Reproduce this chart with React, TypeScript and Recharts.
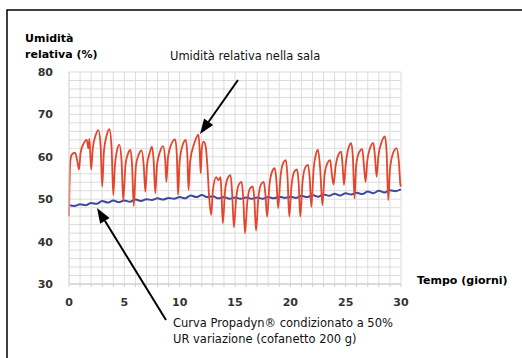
import React from "react";
import { LineChart, Line, XAxis, YAxis, CartesianGrid } from "recharts";

// Room relative humidity (red) — day, %RH
const redDays = [
  0, 0.1, 0.25, 0.55, 0.75, 0.9,
  1.05, 1.3, 1.6, 1.75, 1.85, 2.0,
  2.15, 2.4, 2.65, 2.85, 3.0,
  3.15, 3.4, 3.65, 3.85, 4.0,
  4.15, 4.3, 4.55, 4.75, 4.9,
  5.1, 5.3, 5.55, 5.7, 5.85,
  6.05, 6.3, 6.55, 6.75, 6.9,
  7.05, 7.3, 7.5, 7.65, 7.8,
  7.95, 8.2, 8.5, 8.7, 8.8,
  8.95, 9.25, 9.6, 9.75, 9.85,
  10.0, 10.3, 10.55, 10.7, 10.8,
  10.95, 11.3, 11.7, 11.8, 11.9,
  12.0, 12.15, 12.35, 12.5, 12.65, 12.85,
  13.0, 13.3, 13.5, 13.7, 13.8, 13.9,
  14.1, 14.35, 14.6, 14.75, 14.9,
  15.1, 15.35, 15.6, 15.75, 15.9,
  16.1, 16.35, 16.6, 16.75, 16.9,
  17.1, 17.35, 17.6, 17.75, 17.9,
  18.1, 18.35, 18.6, 18.75, 18.9,
  19.1, 19.35, 19.6, 19.75, 19.9,
  20.1, 20.35, 20.6, 20.75, 20.9,
  21.1, 21.35, 21.6, 21.75, 21.9,
  22.1, 22.3, 22.5, 22.7, 22.9,
  23.1, 23.35, 23.6, 23.75, 23.9,
  24.1, 24.35, 24.6, 24.72, 24.85,
  25.0, 25.25, 25.5, 25.65, 25.8,
  25.95, 26.2, 26.5, 26.65, 26.8,
  26.95, 27.2, 27.5, 27.65, 27.8,
  27.95, 28.25, 28.55, 28.7, 28.85,
  29.0, 29.3, 29.6, 29.8, 29.95, 30.0,
];
const redValues = [
  46, 58.5, 60.5, 61, 59, 57,
  61, 63, 64, 62, 64.2, 57,
  62, 65, 66.3, 63, 53,
  61, 65, 66.5, 62, 51,
  58, 61, 62.8, 59, 49.8,
  58, 60.5, 61.6, 58, 48.4,
  58, 60.5, 61.5, 58, 51.8,
  58, 61, 62.4, 59, 51.4,
  58, 61, 62.5, 59, 54.1,
  60, 63, 64.1, 60, 51,
  59, 63, 64, 60, 52.2,
  59, 63, 65.2, 62, 56.1,
  62, 63.6, 62.5, 58, 51, 46.3,
  52, 55.2, 54.5, 55.2, 50, 44.3,
  52, 55, 55.7, 51, 43.4,
  50, 53.5, 54.1, 50, 42,
  49, 52.5, 53, 50, 42.6,
  50, 53.5, 54.1, 51, 45.9,
  53, 56.5, 57.3, 54, 47.9,
  55, 58.5, 59.2, 55, 45.9,
  53, 56.5, 57, 54, 45.9,
  54, 57.5, 58.1, 55, 48.2,
  57, 60.5, 61.6, 57, 48.6,
  56, 58.5, 59.2, 56, 53.5,
  58, 60.5, 61.2, 58, 53.4,
  58, 62, 63.2, 60, 50.2,
  58, 61, 61.8, 58, 54.1,
  59, 62, 63.3, 60, 55.3,
  60, 63.5, 64.8, 61, 49.8,
  57, 61, 62, 59, 53.4, 53,
];

// Propadyn curve (blue) — day, %RH
const blueDays = [
  0, 0.5, 1, 1.5, 2, 2.5, 3, 3.5, 4, 4.5, 5, 5.5, 6, 6.5, 7, 7.5, 8, 8.5, 9, 9.5,
  10, 10.5, 11, 11.5, 12, 12.5, 13, 13.5, 14, 14.5, 15, 15.5, 16, 16.5, 17, 17.5,
  18, 18.5, 19, 19.5, 20, 20.5, 21, 21.5, 22, 22.5, 23, 23.5, 24, 24.5, 25, 25.5,
  26, 26.5, 27, 27.5, 28, 28.5, 29, 29.5, 30,
];
const blueValues = [
  48.6, 48.4, 48.8, 48.6, 49.1, 48.9, 49.6, 49.2, 49.7, 49.3, 49.7, 49.4, 49.9, 49.6,
  50.0, 49.8, 50.2, 49.9, 50.3, 50.1, 50.5, 50.2, 50.9, 50.5, 51.0, 50.5, 50.7, 50.2,
  50.5, 50.1, 50.4, 50.1, 50.4, 50.1, 50.4, 50.1, 50.5, 50.2, 50.6, 50.3, 50.6, 50.3,
  50.8, 50.5, 51.0, 50.6, 51.1, 50.8, 51.3, 50.9, 51.4, 51.1, 51.5, 51.2, 51.8, 51.4,
  52.0, 51.6, 52.1, 51.9, 52.3,
];

const dayTicks = Array.from({ length: 31 }, (_, i) => i);
const rhTicks = Array.from({ length: 26 }, (_, i) => 30 + i * 2);

const redData = redDays.map((d, i) => ({ day: d, rh: redValues[i] }));
const blueData = blueDays.map((d, i) => ({ day: d, rh: blueValues[i] }));

const FONT = "'DejaVu Sans', sans-serif";

function Arrow({ x1, y1, x2, y2 }: { x1: number; y1: number; x2: number; y2: number }) {
  const dx = x2 - x1;
  const dy = y2 - y1;
  const len = Math.sqrt(dx * dx + dy * dy);
  const ux = dx / len;
  const uy = dy / len;
  const hl = 15;
  const hw = 5.5;
  const bx = x2 - ux * hl;
  const by = y2 - uy * hl;
  const px = -uy;
  const py = ux;
  const pts = `${x2},${y2} ${bx + px * hw},${by + py * hw} ${bx - px * hw},${by - py * hw}`;
  return (
    <g>
      <line x1={x1} y1={y1} x2={bx} y2={by} stroke="#000" strokeWidth={2} />
      <polygon points={pts} fill="#000" />
    </g>
  );
}

const tickStyle = { fill: "#333", fontSize: 11, fontWeight: 700, fontFamily: FONT };

export default function App() {
  return (
    <div style={{ position: "fixed", left: 0, top: 0, width: 522, height: 358, background: "#fff" }}>
      <LineChart
        width={522}
        height={358}
        margin={{ top: 72, right: 121, bottom: 44, left: 39 }}
        style={{ position: "absolute", left: 0, top: 0 }}
      >
        <CartesianGrid stroke="#dcdcdc" strokeWidth={1} />
        <XAxis
          type="number"
          dataKey="day"
          domain={[0, 30]}
          ticks={dayTicks}
          interval={0}
          height={30}
          tickFormatter={(v: number) => (v % 5 === 0 ? String(v) : "")}
          axisLine={{ stroke: "#c8c8c8" }}
          tickLine={{ stroke: "#d0d0d0" }}
          tickSize={3}
          tickMargin={11}
          tick={tickStyle}
        />
        <YAxis
          type="number"
          domain={[30, 80]}
          ticks={rhTicks}
          interval={0}
          width={30}
          tickFormatter={(v: number) => (v % 10 === 0 ? String(v) : "")}
          axisLine={{ stroke: "#dcdcdc" }}
          tickLine={false}
          tickSize={0}
          tickMargin={16}
          tick={tickStyle}
        />
        <Line
          data={blueData}
          dataKey="rh"
          type="monotone"
          stroke="#3d4a9c"
          strokeWidth={2}
          dot={false}
          isAnimationActive={false}
        />
        <Line
          data={redData}
          dataKey="rh"
          type="monotone"
          stroke="#e4452b"
          strokeWidth={1.8}
          dot={false}
          isAnimationActive={false}
        />
      </LineChart>
      <svg
        width={522}
        height={358}
        style={{ position: "absolute", left: 0, top: 0, pointerEvents: "none" }}
      >
        <rect x={7} y={10} width={600} height={500} fill="none" stroke="#000" strokeWidth={1.5} />
        <text x={25} y={42} fontFamily={FONT} fontSize={11} fontWeight={700} fill="#000">
          Umidità
        </text>
        <text x={25} y={58} fontFamily={FONT} fontSize={11} fontWeight={700} fill="#000">
          relativa (%)
        </text>
        <text x={170} y={60} fontFamily={FONT} fontSize={11.5} fill="#111">
          Umidità relativa nella sala
        </text>
        <text x={417} y={284} fontFamily={FONT} fontSize={11} fontWeight={700} fill="#000">
          Tempo (giorni)
        </text>
        <text x={173} y={327} fontFamily={FONT} fontSize={11.5} fill="#111">
          Curva Propadyn® condizionato a 50%
        </text>
        <text x={173} y={343} fontFamily={FONT} fontSize={11.5} fill="#111">
          UR variazione (cofanetto 200 g)
        </text>
        <Arrow x1={238} y1={80} x2={200} y2={134} />
        <Arrow x1={166} y1={320} x2={97} y2={208} />
      </svg>
    </div>
  );
}
